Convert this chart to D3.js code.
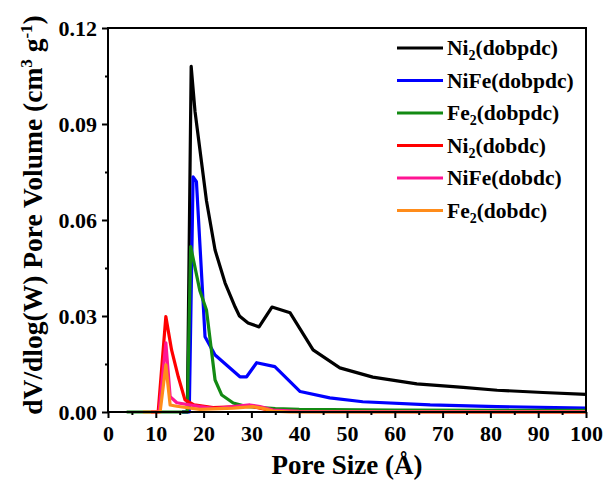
<!DOCTYPE html>
<html>
<head>
<meta charset="utf-8">
<script src="https://cdn.jsdelivr.net/npm/d3@7"></script>
<style>
  body { margin: 0; background: #fff; }
</style>
</head>
<body>
<script>
  // pore size (Å) / dV/dlog(W)
  const ni2Dobpdc = [
    [15.5, 0], [16.6, 0], [17.4, 0.108], [18.2, 0.094], [20.6, 0.066], [22.4, 0.0506],
    [24.5, 0.0403], [26.6, 0.0328], [27.5, 0.030], [29.3, 0.0278], [31.6, 0.0266],
    [34.3, 0.0328], [38.1, 0.031], [42.9, 0.0194], [48.5, 0.0138], [55.4, 0.0109],
    [64.6, 0.0088], [74.3, 0.0077], [81.4, 0.0068], [91, 0.0061], [100, 0.0055]
  ];
  const nifeDobpdc = [
    [15.5, 0], [17.0, 0], [17.8, 0.0735], [18.5, 0.072], [20.3, 0.0235], [22.4, 0.0178],
    [27.6, 0.011], [29.0, 0.011], [31.1, 0.0154], [34.9, 0.0142], [40.2, 0.0064],
    [46.4, 0.0044], [53.3, 0.0032], [67.4, 0.0022], [81.4, 0.0017], [100, 0.0012]
  ];
  const fe2Dobpdc = [
    [3.9, 0], [16.6, 0], [17.3, 0.0517], [19.2, 0.038], [20.6, 0.0319], [22.4, 0.010],
    [23.8, 0.0053], [26.2, 0.0028], [29.0, 0.0017], [35, 0.0011], [40, 0.0008],
    [60, 0.0006], [100, 0.0005]
  ];
  const ni2Dobdc = [
    [9, 0], [10.5, 0], [12.1, 0.0298], [13.3, 0.0194], [14.7, 0.011], [16.1, 0.0038],
    [18, 0.0022], [22, 0.0014], [26, 0.0016], [30, 0.0018], [33, 0.0008], [36, 0.0002],
    [100, 0]
  ];
  const nifeDobdc = [
    [9, 0], [10.7, 0], [12.1, 0.0216], [13.0, 0.0048], [14.4, 0.0029], [19.2, 0.0017],
    [22.4, 0.0011], [26.2, 0.0017], [29.7, 0.0022], [31.8, 0.0017], [34.5, 0.0006],
    [40, 0.0002], [100, 0.0001]
  ];
  const fe2Dobdc = [
    [7.3, 0], [10.9, 0], [12.1, 0.0147], [13.0, 0.0022], [14.4, 0.0018], [19.2, 0.0008],
    [26.2, 0.0012], [30.3, 0.0017], [32.2, 0.0012], [34.5, 0.0003], [38, 0], [100, 0]
  ];

  const seriesNames = [
    ['Ni', '2', '(dobpdc)'], ['NiFe', '', '(dobpdc)'], ['Fe', '2', '(dobpdc)'],
    ['Ni', '2', '(dobdc)'], ['NiFe', '', '(dobdc)'], ['Fe', '2', '(dobdc)']
  ];
  const seriesColors = ['#000000', '#0000ff', '#138a13', '#ff0000', '#ff1493', '#ff8c1a'];
  const seriesData = [ni2Dobpdc, nifeDobpdc, fe2Dobpdc, ni2Dobdc, nifeDobdc, fe2Dobdc];

  const xTicks = [0, 10, 20, 30, 40, 50, 60, 70, 80, 90, 100];
  const yTicks = [0, 0.03, 0.06, 0.09, 0.12];

  const width = 605;
  const height = 491;
  const margin = { top: 28, right: 19, bottom: 79, left: 108 };
  const font = '"Liberation Serif", "Times New Roman", serif';

  const svg = d3.select('body')
          .append('svg')
          .attr('width', width)
          .attr('height', height);

  const x = d3.scaleLinear().domain([0, 100]).range([margin.left, width - margin.right]);
  const y = d3.scaleLinear().domain([0, 0.12]).range([height - margin.bottom, margin.top]);

  // lines
  const line = d3.line().x(d => x(d[0])).y(d => y(d[1]));
  svg.append('g')
          .selectAll('path')
          .data(seriesData)
          .enter()
          .append('path')
          .attr('d', line)
          .attr('fill', 'none')
          .attr('stroke', (d, i) => seriesColors[i])
          .attr('stroke-width', 3.2)
          .attr('stroke-linejoin', 'round');

  // frame
  svg.append('rect')
          .attr('x', margin.left)
          .attr('y', margin.top)
          .attr('width', width - margin.left - margin.right)
          .attr('height', height - margin.top - margin.bottom)
          .attr('fill', 'none')
          .attr('stroke', '#000')
          .attr('stroke-width', 2);

  // axes
  const xAxis = svg.append('g')
          .attr('transform', `translate(0,${height - margin.bottom})`)
          .call(d3.axisBottom(x).tickValues(xTicks).tickSize(6).tickPadding(7));
  xAxis.append('g')
          .call(d3.axisBottom(x).tickValues(d3.range(5, 100, 10)).tickSize(3).tickFormat(''));
  svg.append('g')
          .attr('transform', `translate(${margin.left},0)`)
          .call(d3.axisLeft(y).tickValues(yTicks).tickFormat(d3.format('.2f')).tickSize(6).tickPadding(5))
          .append('g')
          .call(d3.axisLeft(y).tickValues([0.015, 0.045, 0.075, 0.105]).tickSize(3).tickFormat(''));

  svg.selectAll('.domain').remove();
  svg.selectAll('.tick line').attr('stroke', '#000').attr('stroke-width', 2);
  svg.selectAll('.tick text')
          .attr('fill', '#000')
          .style('font-size', '22px')
          .style('font-family', font)
          .style('font-weight', 'bold');

  // axis titles
  svg.append('text')
          .attr('x', (margin.left + width - margin.right) / 2)
          .attr('y', 474)
          .attr('text-anchor', 'middle')
          .style('font-family', font)
          .style('font-weight', 'bold')
          .style('font-size', '27px')
          .text('Pore Size (Å)');

  const yTitle = svg.append('text')
          .attr('transform', `translate(42,${(margin.top + height - margin.bottom) / 2 - 5}) rotate(-90)`)
          .attr('text-anchor', 'middle')
          .style('font-family', font)
          .style('font-weight', 'bold')
          .style('font-size', '27.5px');
  yTitle.append('tspan').text('dV/dlog(W) Pore Volume (cm');
  yTitle.append('tspan').attr('dy', -10).style('font-size', '17px').text('3');
  yTitle.append('tspan').attr('dy', 10).text(' g');
  yTitle.append('tspan').attr('dy', -10).style('font-size', '17px').text('-1');
  yTitle.append('tspan').attr('dy', 10).text(')');

  // legend
  const legend = svg.append('g')
          .selectAll('g')
          .data(seriesNames)
          .enter()
          .append('g')
          .attr('transform', (d, i) => `translate(397,${48 + i * 32.5})`);
  legend.append('line')
          .attr('x1', 0).attr('x2', 46)
          .attr('stroke', (d, i) => seriesColors[i])
          .attr('stroke-width', 3.2);
  const legendText = legend.append('text')
          .attr('x', 50)
          .attr('dy', '0.33em')
          .style('font-family', font)
          .style('font-weight', 'bold')
          .style('font-size', '21.5px');
  legendText.append('tspan').text(d => d[0]);
  legendText.append('tspan').attr('dy', 5).style('font-size', '14px').text(d => d[1]);
  legendText.append('tspan').attr('dy', d => d[1] ? -5 : 0).text(d => d[2]);
</script>
</body>
</html>
